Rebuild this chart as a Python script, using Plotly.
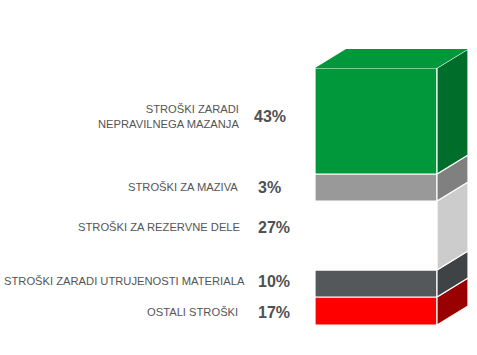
import plotly.graph_objects as go

# bottom to top
labels = ["OSTALI STROŠKI", "STROŠKI ZARADI UTRUJENOSTI MATERIALA", "STROŠKI ZA REZERVNE DELE",
          "STROŠKI ZA MAZIVA", "STROŠKI ZARADI<br>NEPRAVILNEGA MAZANJA"]
percent_labels = ["17%", "10%", "27%", "3%", "43%"]
segment_heights = [28, 27, 69, 27, 106]

front_colors = ["#ff0000", "#54585a", "#ffffff", "#999999", "#00983a"]
side_colors = ["#990000", "#404346", "#cccccc", "#808080", "#006e2a"]

BAR_X, BAR_W, DX, DY = 376, 122, 31, 19
x0, x1 = BAR_X - BAR_W / 2, BAR_X + BAR_W / 2
label_right = [240, 247, 242, 240, 241]
pct_center = [274, 274, 274, 269, 270]
text_y = [13, 44, 98, 138, 209]
pct_y = [13, 44, 98, 138, 209]

fig = go.Figure()
base = 0
for h, f, s in zip(segment_heights, front_colors, side_colors):
    fig.add_trace(go.Bar(x=[BAR_X], y=[h], base=[base], width=[BAR_W],
                         marker=dict(color=f, line=dict(color="white", width=1.2)),
                         hoverinfo="skip", showlegend=False))
    fig.add_trace(go.Scatter(x=[x1, x1 + DX, x1 + DX, x1, x1],
                             y=[base, base + DY, base + h + DY, base + h, base],
                             mode="lines", fill="toself", fillcolor=s,
                             line=dict(color="white", width=1.2),
                             hoverinfo="skip", showlegend=False))
    base += h

fig.add_trace(go.Scatter(x=[x0, x0 + DX, x1 + DX, x1, x0],
                         y=[base, base + DY, base + DY, base, base],
                         mode="lines", fill="toself", fillcolor=front_colors[-1],
                         line=dict(color="white", width=0),
                         hoverinfo="skip", showlegend=False))

for i, (lab, pct) in enumerate(zip(labels, percent_labels)):
    fig.add_annotation(x=label_right[i], y=text_y[i], text=lab, showarrow=False,
                       xanchor="right", yanchor="middle", align="right",
                       font=dict(family="Liberation Sans", size=11.2, color="#555555"))
    fig.add_annotation(x=pct_center[i], y=pct_y[i], text=f"<b>{pct}</b>", showarrow=False,
                       xanchor="center", yanchor="middle",
                       font=dict(family="Liberation Sans", size=16, color="#505050"))

fig.update_layout(width=477, height=355, margin=dict(l=0, r=0, t=0, b=0),
                  paper_bgcolor="white", plot_bgcolor="white", barmode="overlay",
                  xaxis=dict(range=[0, 477], visible=False, fixedrange=True),
                  yaxis=dict(range=[-30, 325], visible=False, fixedrange=True),
                  )
fig.write_html("out.html", config={"displayModeBar": False},
               post_script="document.body.style.margin='0';document.documentElement.style.overflow='hidden';")
